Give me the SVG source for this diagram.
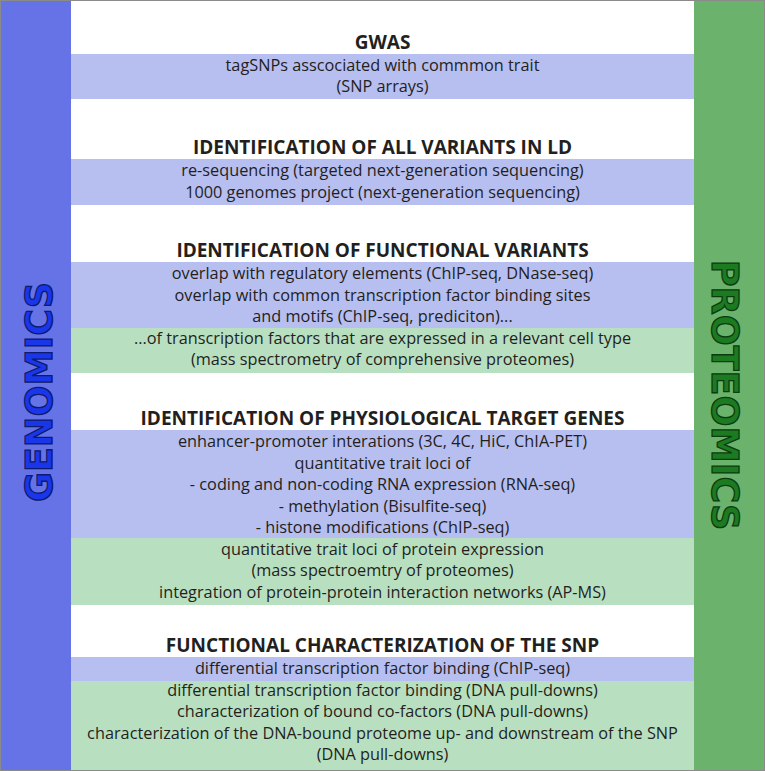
<svg xmlns="http://www.w3.org/2000/svg" width="765" height="771" viewBox="0 0 765 771">
<style>
.h{font-family:"Open Sans","Liberation Sans",sans-serif;font-weight:bold;font-size:19px;fill:#231f20;text-anchor:middle}
.t{font-family:"Open Sans","Liberation Sans",sans-serif;font-size:16.3px;fill:#231f20;text-anchor:middle}
.blue{fill:#b7bef0}
.green{fill:#b9dfc1}
.vl{font-family:"DejaVu Sans",sans-serif;font-weight:bold;font-size:36.5px;text-anchor:middle;stroke-width:1.3}
</style>
<rect x="0" y="0" width="765" height="771" fill="#ffffff"/>
<g id="genomics-bar">
<rect x="0" y="0" width="71" height="771" fill="#6673e6"/>
<text class="vl" transform="translate(52,392) rotate(-90)" fill="#1a36ea" stroke="#0d1a6e">GENOMICS</text>
</g>
<g id="proteomics-bar">
<rect x="694" y="0" width="71" height="771" fill="#6bb26d"/>
<text class="vl" transform="translate(712,395) rotate(90)" fill="#1c7a21" stroke="#0c3d10">PROTEOMICS</text>
</g>
<g id="gwas">
<rect class="blue" x="71" y="54" width="623" height="45"/>
<text class="h" x="382.5" y="49">GWAS</text>
<text class="t" x="382.5" y="71">tagSNPs asscociated with commmon trait</text>
<text class="t" x="382.5" y="92">(SNP arrays)</text>
</g>
<g id="ld">
<rect class="blue" x="71" y="159" width="623" height="46"/>
<text class="h" x="382.5" y="154">IDENTIFICATION OF ALL VARIANTS IN LD</text>
<text class="t" x="382.5" y="176">re-sequencing (targeted next-generation sequencing)</text>
<text class="t" x="382.5" y="197.5">1000 genomes project (next-generation sequencing)</text>
</g>
<g id="functional-variants">
<rect class="blue" x="71" y="262" width="623" height="66"/>
<rect class="green" x="71" y="328" width="623" height="45"/>
<text class="h" x="382.5" y="257">IDENTIFICATION OF FUNCTIONAL VARIANTS</text>
<text class="t" x="382.5" y="279">overlap with regulatory elements (ChIP-seq, DNase-seq)</text>
<text class="t" x="382.5" y="300.5">overlap with common transcription factor binding sites</text>
<text class="t" x="382.5" y="322">and motifs (ChIP-seq, prediciton)...</text>
<text class="t" x="382.5" y="343.5">...of transcription factors that are expressed in a relevant cell type</text>
<text class="t" x="382.5" y="365">(mass spectrometry of comprehensive proteomes)</text>
</g>
<g id="target-genes">
<rect class="blue" x="71" y="430" width="623" height="108"/>
<rect class="green" x="71" y="538" width="623" height="67"/>
<text class="h" x="382.5" y="425">IDENTIFICATION OF PHYSIOLOGICAL TARGET GENES</text>
<text class="t" x="382.5" y="447">enhancer-promoter interations (3C, 4C, HiC, ChIA-PET)</text>
<text class="t" x="382.5" y="468.5">quantitative trait loci of</text>
<text class="t" x="382.5" y="490">- coding and non-coding RNA expression (RNA-seq)</text>
<text class="t" x="382.5" y="511.5">- methylation (Bisulfite-seq)</text>
<text class="t" x="382.5" y="533">- histone modifications (ChIP-seq)</text>
<text class="t" x="382.5" y="554.5">quantitative trait loci of protein expression</text>
<text class="t" x="382.5" y="576">(mass spectroemtry of proteomes)</text>
<text class="t" x="382.5" y="597.5">integration of protein-protein interaction networks (AP-MS)</text>
</g>
<g id="snp-characterization">
<rect class="blue" x="71" y="657" width="623" height="24"/>
<rect class="green" x="71" y="681" width="623" height="90"/>
<text class="h" x="382.5" y="652">FUNCTIONAL CHARACTERIZATION OF THE SNP</text>
<text class="t" x="382.5" y="674">differential transcription factor binding (ChIP-seq)</text>
<text class="t" x="382.5" y="695.5">differential transcription factor binding (DNA pull-downs)</text>
<text class="t" x="382.5" y="717">characterization of bound co-factors (DNA pull-downs)</text>
<text class="t" x="382.5" y="738.5">characterization of the DNA-bound proteome up- and downstream of the SNP</text>
<text class="t" x="382.5" y="760">(DNA pull-downs)</text>
</g>
<g id="connectors"/>
<rect x="0.5" y="0.5" width="764" height="770" fill="none" stroke="#8a8a8a" stroke-width="1"/>
</svg>
